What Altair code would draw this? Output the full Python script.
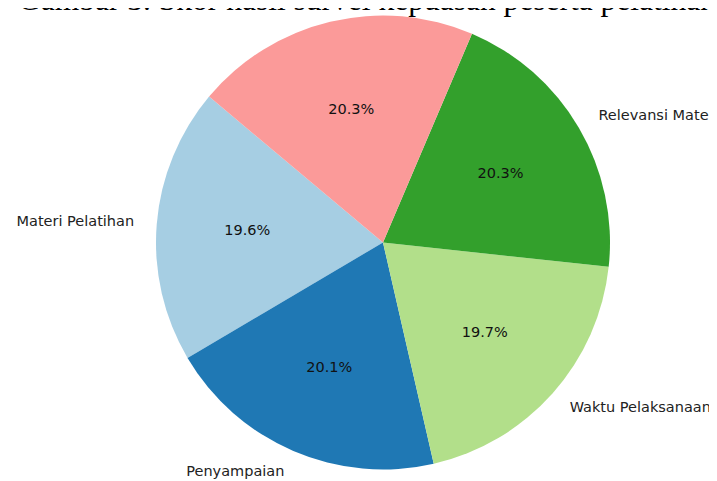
import math
import altair as alt
import pandas as pd

# ---- data ----
categories = ["Materi Pelatihan", "Penyampaian", "Waktu Pelaksanaan", "Relevansi Materi", "Fasilitas"]
percentages = [19.6, 20.1, 19.7, 20.3, 20.3]
slice_colors = ["#a6cee3", "#1f78b4", "#b2df8a", "#33a02c", "#fb9a99"]
caption = "Gambar 3. Skor hasil survei kepuasan peserta pelatihan"

df = pd.DataFrame({
    "kategori": categories,
    "nilai": percentages,
    "urut": list(range(len(categories))),
})

# geometry (matplotlib-style: startangle 140, counter-clockwise)
CX, CY, R = 375, 234.5, 227
START = 140
theta_range = [math.radians(90 - START + 360), math.radians(90 - START)]

base = alt.Chart(df).encode(
    theta=alt.Theta("nilai:Q", stack=True, scale=alt.Scale(range=theta_range)),
    order=alt.Order("urut:Q", sort="ascending"),
)

arcs = base.mark_arc(outerRadius=R, x=CX, y=CY).encode(
    color=alt.Color("kategori:N", scale=alt.Scale(domain=categories, range=slice_colors), legend=None)
)

pct = base.mark_text(
    radius=R * 0.6, x=CX, y=CY, font="DejaVu Sans", fontSize=14.5,
    color="#111111", align="center", baseline="middle"
).transform_calculate(
    lbl="format(datum.nilai, '.1f') + '%'"
).encode(text="lbl:N")

outer = base.mark_text(
    radius=R * 1.1, x=CX, y=CY, font="DejaVu Sans", fontSize=14.5,
    color="#222222", baseline="middle",
    align=alt.expr("cos((%d + 3.6 * datum.mid) * PI / 180) < 0 ? 'right' : 'left'" % START),
).transform_window(
    cum="sum(nilai)", sort=[alt.SortField("urut")], frame=[None, 0]
).transform_calculate(
    mid="datum.cum - datum.nilai / 2"
).encode(text="kategori:N")

title = alt.Chart(pd.DataFrame({"t": [caption]})).mark_text(
    font="Liberation Serif", fontSize=31.5, align="left", baseline="alphabetic",
    x=10, y=2, color="#000000"
).encode(text="t:N")

chart = alt.layer(arcs, pct, outer, title).properties(
    width=701, height=473,
    autosize=alt.AutoSizeParams(type="none"),
    padding=0,
).configure_view(stroke=None)

chart.save("out.html", embed_options={"renderer": "svg", "actions": False})
